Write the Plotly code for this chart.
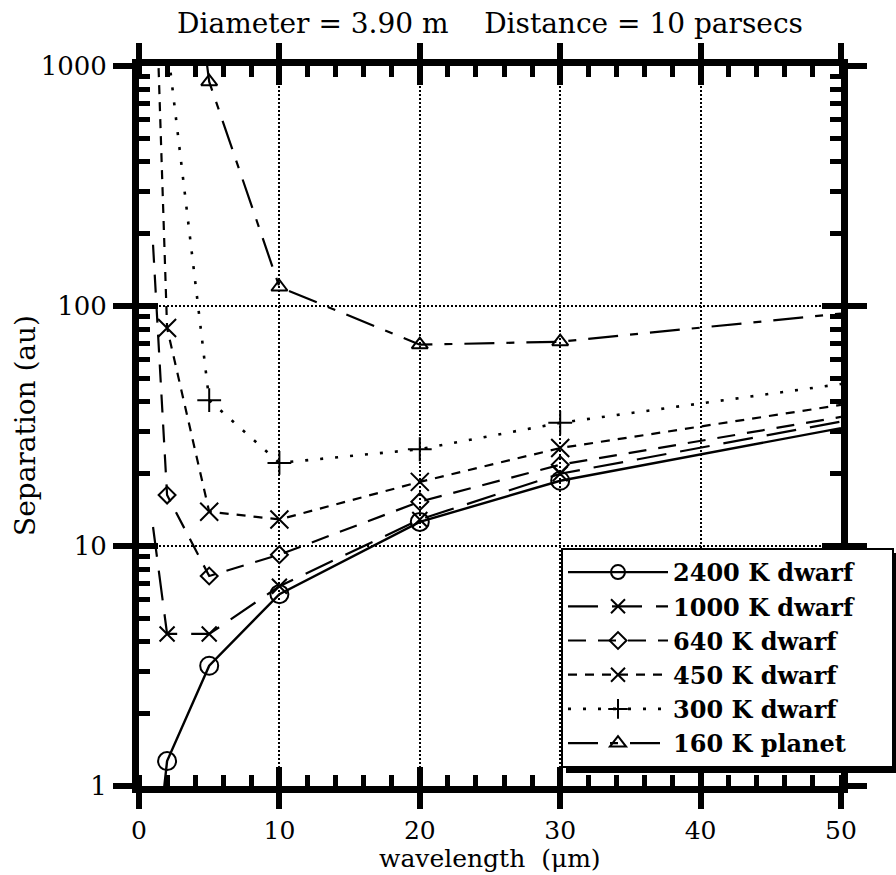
import plotly.graph_objects as go

# Wavelength grid (micron) and minimum resolvable separation (au) per object
wavelength = [1, 2, 5, 10, 20, 30, 50]
sep_2400k = [0.37, 1.27, 3.17, 6.3, 12.6, 18.7, 31.0]
sep_1000k = [12.0, 4.3, 4.3, 6.8, 12.9, 20.0, 33.0]
sep_640k = [180.0, 16.3, 7.5, 9.2, 15.3, 21.8, 34.5]
sep_450k = [5000.0, 81.0, 13.9, 12.9, 18.5, 25.6, 38.7]
sep_300k = [None, 1250.0, 40.5, 22.2, 25.3, 32.6, 47.3]
sep_160k = [None, 20000.0, 860.0, 120.0, 69.0, 71.0, 93.0]
# only the computed bands carry a symbol; the end points just extend the curve
marked = [False, True, True, True, True, True, False]

series_names = ["2400 K dwarf", "1000 K dwarf", "640 K dwarf",
                "450 K dwarf", "300 K dwarf", "160 K planet"]
series_values = [sep_2400k, sep_1000k, sep_640k, sep_450k, sep_300k, sep_160k]

x_ticks = [0, 10, 20, 30, 40, 50]
y_ticks = [1, 10, 100, 1000]
y_tick_text = ["1", "10", "100", "1000"]

styles = [
    dict(dash="solid", width=2.4, symbol="circle-open", size=18),
    dict(dash="30px,14px", width=2.2, symbol="x-thin-open", size=15),
    dict(dash="18px,12px", width=2.2, symbol="diamond-open", size=13),
    dict(dash="9px,8px", width=2.2, symbol="x-thin-open", size=18),
    dict(dash="3px,12px", width=2.6, symbol="cross-thin-open", size=17),
    dict(dash="30px,12px,8px,12px", width=2.2, symbol="triangle-up-open", size=14),
]

FONT = "DejaVu Serif"
PAD = "\u00a0\u00a0\u00a0\u00a0"

# plot-area geometry in pixels (used for the legend box, its shadow and titles)
L, R, T, B = 139, 841, 66, 786
W, H = R - L, B - T

fig = go.Figure()

for name, vals, st in zip(series_names, series_values, styles):
    # full curve, no symbols
    fig.add_trace(go.Scatter(
        x=wavelength, y=vals, mode="lines", showlegend=False, hoverinfo="skip",
        line=dict(color="black", width=st["width"], dash=st["dash"]),
    ))
    # symbols at the sampled wavelengths
    mx = [w for w, m in zip(wavelength, marked) if m]
    my = [v for v, m in zip(vals, marked) if m]
    fig.add_trace(go.Scatter(
        x=mx, y=my, mode="markers", showlegend=False, hoverinfo="skip",
        marker=dict(symbol=st["symbol"], size=st["size"], color="black",
                    line=dict(color="black", width=2)),
    ))

# legend entries
for name, st in zip(series_names, styles):
    fig.add_trace(go.Scatter(
        x=[None], y=[None], mode="lines+markers", name=name + PAD,
        line=dict(color="black", width=st["width"], dash=st["dash"]),
        marker=dict(symbol=st["symbol"], size=min(st["size"], 14), color="black",
                    line=dict(color="black", width=2)),
    ))

# companion axes carrying the inward half of the major ticks
fig.add_trace(go.Scatter(x=[None], y=[None], xaxis="x2", yaxis="y2",
                         showlegend=False, hoverinfo="skip"))

tick_font = dict(family=FONT, size=25, color="black")
title_font = dict(family=FONT, size=28, color="black")

fig.update_layout(
    width=896, height=875,
    margin=dict(l=L, r=896 - R, t=T, b=875 - B, autoexpand=False),
    paper_bgcolor="white", plot_bgcolor="white",
    title=dict(text="Diameter = 3.90 m\u00a0\u00a0\u00a0\u00a0Distance = 10 parsecs",
               x=0.5, xref="paper", xanchor="center",
               y=1 - 23 / 875, yref="container", yanchor="middle",
               font=dict(family=FONT, size=28, color="black")),
    xaxis=dict(
        range=[0, 50], tickmode="array", tickvals=x_ticks, automargin=False,
        ticks="outside", ticklen=16, tickwidth=6, tickcolor="black",
        showline=True, linewidth=7, linecolor="black", mirror="ticks",
        showgrid=True, gridcolor="black", gridwidth=1.5, griddash="2px,2px",
        zeroline=False, tickfont=tick_font,
        minor=dict(ticks="inside", ticklen=11, tickwidth=5, tickcolor="black",
                   dtick=2, tick0=0, showgrid=False),
    ),
    yaxis=dict(
        type="log", range=[0, 3], tickmode="array", tickvals=y_ticks,
        ticktext=y_tick_text, automargin=False,
        ticks="outside", ticklen=19, tickwidth=6, tickcolor="black",
        showline=True, linewidth=7, linecolor="black", mirror="ticks",
        showgrid=True, gridcolor="black", gridwidth=1.5, griddash="2px,2px",
        zeroline=False, tickfont=dict(family=FONT, size=26, color="black"),
        ticklabelstandoff=1,
        minor=dict(ticks="inside", ticklen=11, tickwidth=5, tickcolor="black",
                   tickmode="array",
                   tickvals=[d * m for d in (1, 10, 100) for m in range(2, 10)],
                   showgrid=False),
    ),
    xaxis2=dict(
        overlaying="x", anchor="y2", range=[0, 50], tickmode="array",
        tickvals=x_ticks, ticks="inside", ticklen=19, tickwidth=6, automargin=False,
        tickcolor="black", mirror="ticks", showline=False, showgrid=False,
        showticklabels=False, zeroline=False,
    ),
    yaxis2=dict(
        overlaying="y", anchor="x2", type="log", range=[0, 3], tickmode="array",
        tickvals=y_ticks, ticks="inside", ticklen=19, tickwidth=6, automargin=False,
        tickcolor="black", mirror="ticks", showline=False, showgrid=False,
        showticklabels=False, zeroline=False,
    ),
    legend=dict(
        x=(561 - L) / W, y=(B - 548) / H, xanchor="left", yanchor="top",
        bgcolor="white", bordercolor="black", borderwidth=2,
        itemwidth=100, tracegroupgap=0,
        font=dict(family=FONT, size=24, color="black", weight="bold"),
    ),
    shapes=[dict(
        type="rect", xref="paper", yref="paper", layer="above",
        x0=(566 - L) / W, x1=(900 - L) / W,
        y0=(B - 773) / H, y1=(B - 553) / H,
        fillcolor="black", line=dict(width=0),
    )],
    annotations=[
        # axis titles
        dict(text="wavelength  (\u03bcm)", xref="paper", yref="paper",
             x=0.5, y=(B - 874) / H, xanchor="center", yanchor="bottom",
             showarrow=False, borderpad=0,
             font=dict(family=FONT, size=25, color="black")),
        dict(text="Separation (au)", xref="paper", yref="paper",
             x=(25 - L) / W, y=0.5, xanchor="center", yanchor="middle",
             textangle=-90, showarrow=False, font=title_font),
    ],
)

fig.write_html("out.html")
